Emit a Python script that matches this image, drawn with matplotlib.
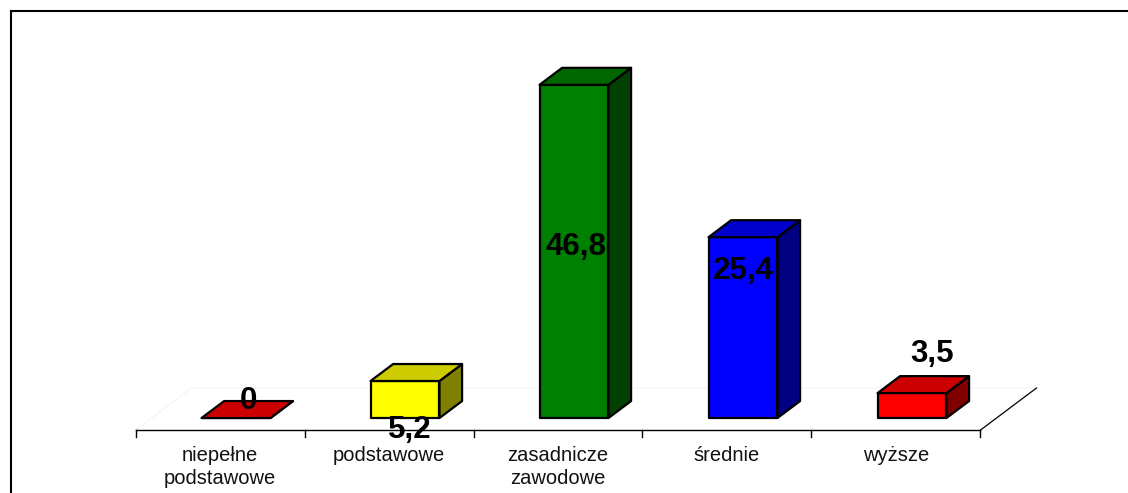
""" 3D-style bar chart, education level shares """

import numpy as np
import matplotlib
matplotlib.use('Agg')
import matplotlib.pyplot as plt
from matplotlib.patches import Polygon
from matplotlib.lines import Line2D
from matplotlib.colors import to_rgb

plt.rcParams['font.family'] = ['Liberation Sans', 'DejaVu Sans']

#%% data
categories = ['niepełne\npodstawowe', 'podstawowe', 'zasadnicze\nzawodowe', 'średnie', 'wyższe']
values = [0, 5.2, 46.8, 25.4, 3.5]
value_labels = ['0', '5,2', '46,8', '25,4', '3,5']
bar_colors = ['#FF0000', '#FFFF00', '#008000', '#0000FF', '#FF0000']

#%% geometry of the fake 3D view (data units)
DX, DV = 0.331, 5.9          # full floor depth offset
V0 = -1.69                   # front floor edge
z0, z1 = 0.286, 0.69         # bar front / back depth
half_w = 0.204
# label anchors (Excel put them in odd places)
label_dx = [0.166, 0.124, 0.107, 0.095, 0.213]
label_v = [2.4, -1.7, 24.0, 20.6, 9.0]


def proj(x, v, z):
    return (x + DX * z, v + V0 + DV * z)


def shade(c, f):
    return tuple(np.array(to_rgb(c)) * f)


fig = plt.figure(figsize=(11.28, 4.93), dpi=100)
ax = fig.add_axes([0, 0, 1, 1])
ax.set_xlim(-1.3018, 5.3728)
ax.set_ylim(-10.53, 58.71)
ax.axis('off')

# floor outline (very faint) and right edge
ax.plot(*zip(proj(-0.5, 0, 0), proj(-0.5, 0, 1), proj(4.5, 0, 1)),
        color='#f5f5f5', lw=0.8, zorder=1)
ax.plot(*zip(proj(4.5, 0, 0), proj(4.5, 0, 1)), color='k', lw=0.9, zorder=2)

# category axis
ax.plot(*zip(proj(-0.5, 0, 0), proj(4.5, 0, 0)), color='k', lw=1.0, zorder=2)
for t in np.arange(-0.5, 5.0, 1.0):
    x, y = proj(t, 0, 0)
    ax.plot([x, x], [y, y - 1.0], color='k', lw=1.0, zorder=2)
for i, lab in enumerate(categories):
    ax.text(i, -3.9, lab, ha='center', va='top', fontsize=14.5,
            multialignment='center', linespacing=1.3, color='#111111')

# bars
for i, (v, c) in enumerate(zip(values, bar_colors)):
    xl, xr = i - half_w, i + half_w
    b = 0 - DV * z0 - V0  # so front bottom sits at 0
    front = [proj(xl, b, z0), proj(xr, b, z0), proj(xr, b + v, z0), proj(xl, b + v, z0)]
    side = [proj(xr, b, z0), proj(xr, b, z1), proj(xr, b + v, z1), proj(xr, b + v, z0)]
    top = [proj(xl, b + v, z0), proj(xr, b + v, z0), proj(xr, b + v, z1), proj(xl, b + v, z1)]
    for pts, f in [(side, 0.5), (front, 1.0), (top, 0.8)]:
        ax.add_patch(Polygon(pts, closed=True, facecolor=shade(c, f),
                             edgecolor='k', lw=1.6, joinstyle='round', zorder=3))

# value labels
for i, lab in enumerate(value_labels):
    ax.text(i + label_dx[i], label_v[i], lab, ha='center', va='center',
            fontsize=22.5, fontweight='bold', color='k', zorder=5)

# chart frame (top and left edge only visible)
fig.add_artist(Line2D([11 / 1128, 11 / 1128], [0, 1 - 11 / 493], color='k', lw=1.5))
fig.add_artist(Line2D([11 / 1128, 1], [1 - 11 / 493, 1 - 11 / 493], color='k', lw=1.5))

plt.savefig('out.png', dpi=100)
